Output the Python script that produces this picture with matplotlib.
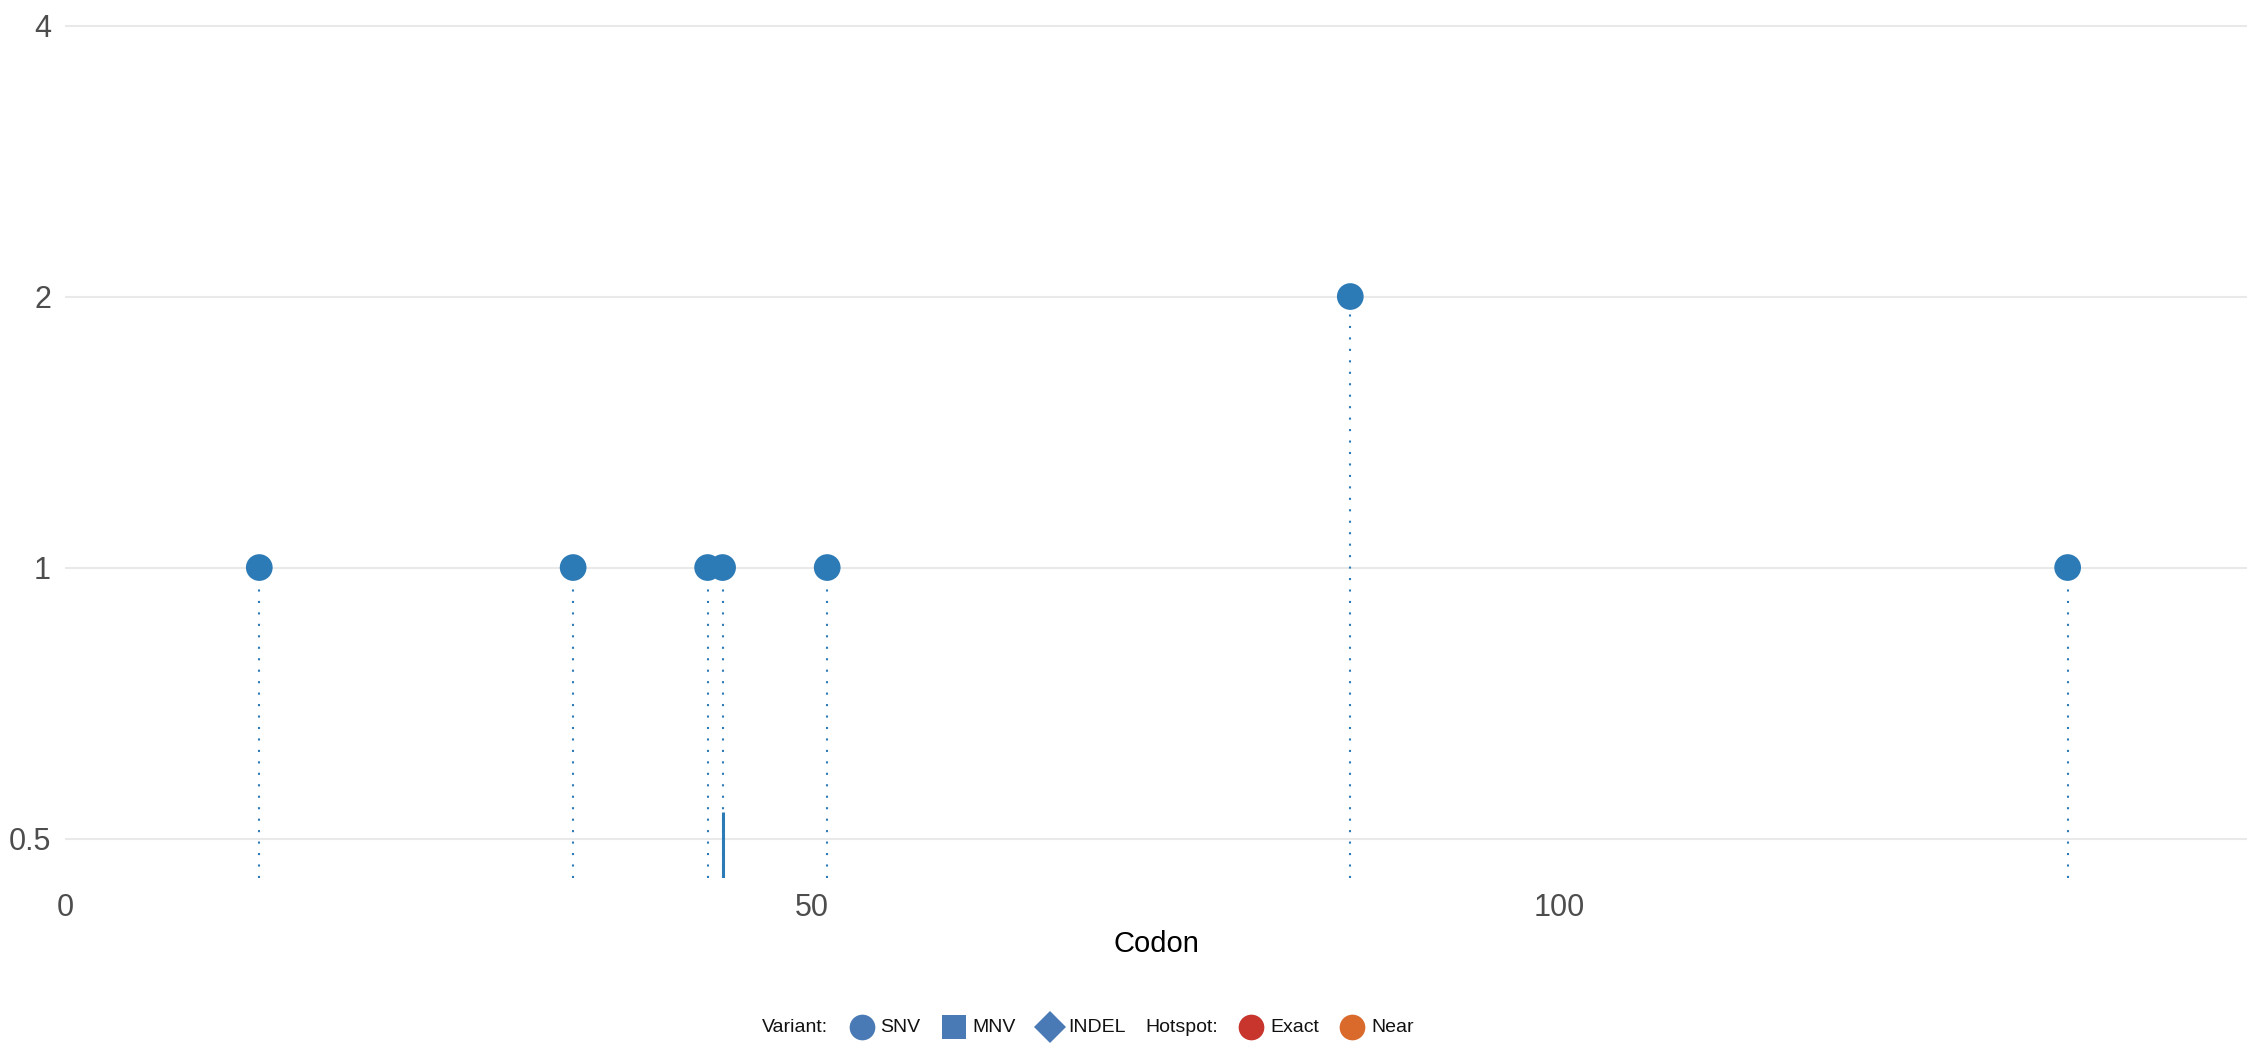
import matplotlib
matplotlib.use("Agg")
import matplotlib.pyplot as plt
from matplotlib.lines import Line2D
from matplotlib.ticker import FixedLocator, FixedFormatter, NullLocator
from matplotlib.offsetbox import HPacker, TextArea, DrawingArea, AnchoredOffsetbox

plt.rcParams['font.family'] = ['Liberation Sans', 'DejaVu Sans']

# ---- data ----
codons = [13, 34, 43, 44, 51, 86, 134]
counts = [1, 1, 1, 1, 1, 2, 1]
bar_codons = [44]
bar_values = [0.535]
y_ticks = [0.5, 1, 2, 4]
y_tick_labels = ["0.5", "1", "2", "4"]
x_ticks = [0, 50, 100]
x_tick_labels = ["0", "50", "100"]
legend_variant = ["SNV", "MNV", "INDEL"]
legend_hotspot = ["Exact", "Near"]

POINT = "#2c7bb6"
VAR_C = "#4a7ab5"
EXACT_C = "#c8352d"
NEAR_C = "#d96a2b"
GRID = "#e9e9e9"
TICK = "#4d4d4d"

YMIN, YMAX = 0.452, 4.27
XMIN, XMAX = 0, 146

fig = plt.figure(figsize=(22.47, 10.49), dpi=100)
ax = fig.add_axes([65 / 2247, 1 - 878 / 1049, 1 - 65 / 2247, 878 / 1049])

ax.set_yscale('log', base=2)
ax.set_ylim(YMIN, YMAX)
ax.set_xlim(XMIN, XMAX)

# stems
ax.vlines(codons, YMIN, counts, colors=POINT, linewidth=1.5,
          linestyles=(0, (1, 4.5)), zorder=2)
# small solid bar
ax.vlines(bar_codons, YMIN, bar_values, colors=POINT, linewidth=2.2, zorder=2)
# points
ax.scatter(codons, counts, s=370, color=POINT, edgecolors='none', zorder=3)

# axes styling
for s in ax.spines.values():
    s.set_visible(False)
ax.yaxis.set_major_locator(FixedLocator(y_ticks))
ax.yaxis.set_major_formatter(FixedFormatter(y_tick_labels))
ax.yaxis.set_minor_locator(NullLocator())
ax.xaxis.set_major_locator(FixedLocator(x_ticks))
ax.xaxis.set_major_formatter(FixedFormatter(x_tick_labels))
ax.xaxis.set_minor_locator(NullLocator())
ax.tick_params(axis='both', length=0, labelsize=22, labelcolor=TICK)
ax.tick_params(axis='y', pad=10)
ax.tick_params(axis='x', pad=11)
ax.grid(axis='y', color=GRID, linewidth=1.5, zorder=0)
ax.grid(axis='x', visible=False)
ax.set_axisbelow(True)
ax.set_xlabel("Codon", fontsize=21, color="black", labelpad=5)

# ---- legend ----
FS = 14


def marker_box(marker, color, size):
    da = DrawingArea(20, 20, 0, 0)
    da.add_artist(Line2D([10], [10], marker=marker, markersize=size,
                         color=color, markeredgewidth=0, linestyle='none'))
    return da


def item(marker, color, size, label):
    return HPacker(children=[marker_box(marker, color, size),
                             TextArea(label, textprops=dict(fontsize=FS, color="#111111"))],
                   sep=3.5, align="center", pad=0)


variant_markers = [("o", 18.5), ("s", 17), ("D", 16)]
children = [TextArea("Variant:", textprops=dict(fontsize=FS, color="#111111"))]
for (m, sz), lab in zip(variant_markers, legend_variant):
    children.append(item(m, VAR_C, sz, lab))
children.append(TextArea("Hotspot:", textprops=dict(fontsize=FS, color="#111111")))
for c, lab in zip([EXACT_C, NEAR_C], legend_hotspot):
    children.append(item("o", c, 18.5, lab))

box = HPacker(children=children, sep=14, align="center", pad=0)
anch = AnchoredOffsetbox(loc='center', child=box, frameon=False,
                         bbox_to_anchor=(1088 / 2247, 1 - 1027 / 1049),
                         bbox_transform=fig.transFigure, pad=0, borderpad=0)
fig.add_artist(anch)

fig.savefig("out.png", dpi=100, facecolor="white")
